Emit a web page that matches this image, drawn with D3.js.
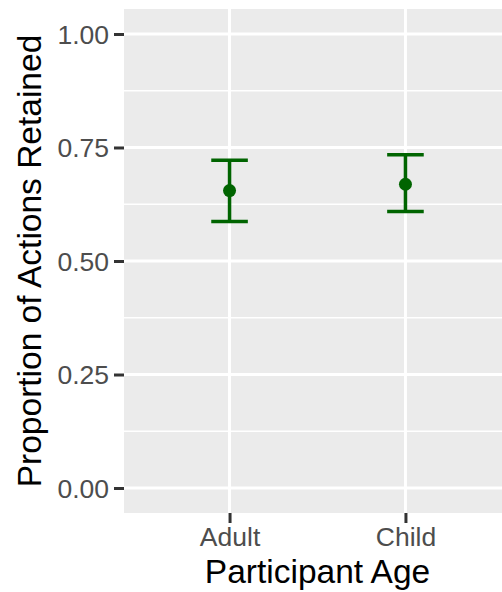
<!DOCTYPE html>
<html>
<head>
<meta charset="utf-8">
<script src="https://cdn.jsdelivr.net/npm/d3@7"></script>
<style>
  html, body { margin: 0; padding: 0; background: #ffffff; }
  svg { display: block; }
  text { font-family: Arial, "Liberation Sans", sans-serif; }
</style>
</head>
<body>
<svg id="chart" width="502" height="592"></svg>
<script>
// Participant groups and the retained-action estimates with their intervals
const groups = ["Adult", "Child"];
const means = [0.655, 0.669];
const lower = [0.587, 0.609];
const upper = [0.722, 0.734];

const yTicks = [0, 0.25, 0.5, 0.75, 1];
const yTickLabels = ["0.00", "0.25", "0.50", "0.75", "1.00"];
const yMinor = [0.125, 0.375, 0.625, 0.875];

const W = 502, H = 592;
const panel = { left: 124, right: 511, top: 9, bottom: 513 };
const markColor = "#006400";

const svg = d3.select("#chart");

// ggplot-like expanded continuous scale
const y = d3.scaleLinear()
  .domain([-0.055, 1.055])
  .range([panel.bottom, panel.top]);

const x = d3.scalePoint()
  .domain(groups)
  .range([panel.left, panel.right])
  .padding(0.6);

svg.append("defs").append("clipPath").attr("id", "panel-clip")
  .append("rect")
  .attr("x", panel.left).attr("y", panel.top)
  .attr("width", W - panel.left).attr("height", panel.bottom - panel.top);

const g = svg.append("g").attr("clip-path", "url(#panel-clip)");

// panel background
g.append("rect")
  .attr("x", panel.left).attr("y", panel.top)
  .attr("width", panel.right - panel.left)
  .attr("height", panel.bottom - panel.top)
  .attr("fill", "#EBEBEB");

// minor horizontal grid
g.selectAll("line.minor").data(yMinor).join("line")
  .attr("class", "minor")
  .attr("x1", panel.left).attr("x2", panel.right)
  .attr("y1", d => y(d)).attr("y2", d => y(d))
  .attr("stroke", "#ffffff").attr("stroke-width", 1.5);

// major horizontal grid
g.selectAll("line.majorY").data(yTicks).join("line")
  .attr("class", "majorY")
  .attr("x1", panel.left).attr("x2", panel.right)
  .attr("y1", d => y(d)).attr("y2", d => y(d))
  .attr("stroke", "#ffffff").attr("stroke-width", 3);

// major vertical grid
g.selectAll("line.majorX").data(groups).join("line")
  .attr("class", "majorX")
  .attr("x1", d => x(d)).attr("x2", d => x(d))
  .attr("y1", panel.top).attr("y2", panel.bottom)
  .attr("stroke", "#ffffff").attr("stroke-width", 3);

// y axis
const yAxis = d3.axisLeft(y)
  .tickValues(yTicks)
  .tickFormat((d, i) => yTickLabels[i])
  .tickSize(10)
  .tickPadding(5);

const ya = svg.append("g")
  .attr("transform", `translate(${panel.left},0)`)
  .call(yAxis);
ya.select(".domain").remove();
ya.selectAll(".tick line").attr("stroke", "#333333").attr("stroke-width", 3);
ya.selectAll(".tick text")
  .attr("fill", "#4D4D4D")
  .style("font-size", "26.5px")
  .attr("dy", "0.35em");

// x axis
const xAxis = d3.axisBottom(x).tickSize(10).tickPadding(4);
const xa = svg.append("g")
  .attr("transform", `translate(0,${panel.bottom})`)
  .call(xAxis);
xa.select(".domain").remove();
xa.selectAll(".tick line").attr("stroke", "#333333").attr("stroke-width", 3);
xa.selectAll(".tick text")
  .attr("fill", "#4D4D4D")
  .style("font-size", "26.5px")
  .attr("dy", "0.71em");

// error bars
const capHalf = x.step() * 0.104;
const bars = g.selectAll("g.bar").data(groups).join("g").attr("class", "bar");
bars.append("line")
  .attr("x1", d => x(d)).attr("x2", d => x(d))
  .attr("y1", (d, i) => y(lower[i])).attr("y2", (d, i) => y(upper[i]))
  .attr("stroke", markColor).attr("stroke-width", 3.5);
bars.append("line")
  .attr("x1", d => x(d) - capHalf).attr("x2", d => x(d) + capHalf)
  .attr("y1", (d, i) => y(upper[i])).attr("y2", (d, i) => y(upper[i]))
  .attr("stroke", markColor).attr("stroke-width", 3.5);
bars.append("line")
  .attr("x1", d => x(d) - capHalf).attr("x2", d => x(d) + capHalf)
  .attr("y1", (d, i) => y(lower[i])).attr("y2", (d, i) => y(lower[i]))
  .attr("stroke", markColor).attr("stroke-width", 3.5);
bars.append("circle")
  .attr("cx", d => x(d))
  .attr("cy", (d, i) => y(means[i]))
  .attr("r", 6.5)
  .attr("fill", markColor);

// axis titles
svg.append("text")
  .attr("x", (panel.left + panel.right) / 2)
  .attr("y", 583)
  .attr("text-anchor", "middle")
  .attr("fill", "#000000")
  .style("font-size", "33.5px")
  .text("Participant Age");

svg.append("text")
  .attr("transform", `translate(41,${(panel.top + panel.bottom) / 2}) rotate(-90)`)
  .attr("text-anchor", "middle")
  .attr("fill", "#000000")
  .style("font-size", "33.5px")
  .text("Proportion of Actions Retained");
</script>
</body>
</html>
